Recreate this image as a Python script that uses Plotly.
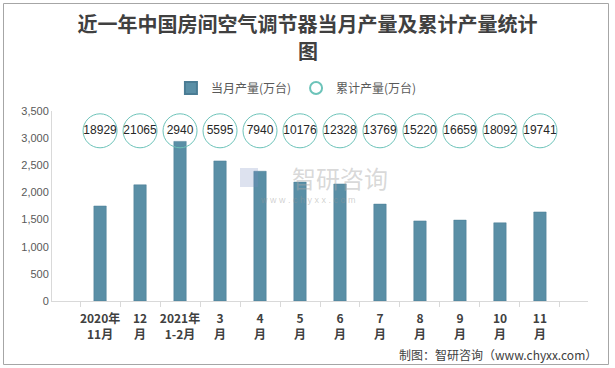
import plotly.graph_objects as go

categories = ["2020年<br>11月", "12<br>月", "2021年<br>1-2月", "3<br>月", "4<br>月", "5<br>月",
              "6<br>月", "7<br>月", "8<br>月", "9<br>月", "10<br>月", "11<br>月"]
monthly = [1750, 2140, 2940, 2580, 2390, 2190, 2155, 1785, 1475, 1490, 1440, 1640]
cumulative = [18929, 21065, 2940, 5595, 7940, 10176, 12328, 13769, 15220, 16659, 18092, 19741]
y_ticks = [0, 500, 1000, 1500, 2000, 2500, 3000, 3500]
title_line1 = "近一年中国房间空气调节器当月产量及累计产量统计"
title_line2 = "图"

W, H = 615, 368
L, R, T, B = 52, 27, 111, 67
circle_y = 3135

def px_x(px):
    return (px - L) / (W - L - R)

def px_y(py):
    return (H - B - py) / (H - T - B)

fig = go.Figure()
fig.add_trace(go.Bar(
    x=categories, y=monthly, name="当月产量(万台)",
    marker=dict(color="#5a8fa6", line=dict(color="#4a7c94", width=0.5)),
    width=0.31,
))
fig.add_trace(go.Scatter(
    x=categories, y=[circle_y] * len(categories), mode="markers",
    name="累计产量(万台)",
    marker=dict(symbol="circle", size=34, color="rgba(255,255,255,0)",
                line=dict(color="#6cc3b9", width=1)),
))
fig.add_trace(go.Scatter(
    x=categories, y=[circle_y] * len(categories), mode="text",
    text=[str(v) for v in cumulative], textposition="middle center",
    textfont=dict(size=12, color="#262626", family="Liberation Sans"),
    showlegend=False, hoverinfo="skip",
))

title_font = dict(size=20, color="#404040", family="Noto Sans CJK SC", weight="bold")

fig.update_layout(
    width=W, height=H,
    margin=dict(l=L, r=R, t=T, b=B, autoexpand=False),
    paper_bgcolor="white", plot_bgcolor="white",
    font=dict(family="Noto Sans CJK SC", color="#595959"),
    title=dict(
        text=title_line1,
        x=0.5, xref="container", xanchor="center",
        y=1 - 25 / H, yref="container", yanchor="middle",
        font=title_font,
    ),
    legend=dict(
        orientation="h", x=0.482, xref="container", xanchor="center",
        y=1 - 88 / H, yref="container", yanchor="middle",
        font=dict(size=12, color="#595959"),
        itemsizing="constant", itemwidth=30, traceorder="normal",
    ),
    xaxis=dict(
        type="category", showline=True, linecolor="#d9d9d9", linewidth=1,
        ticks="outside", tickson="boundaries", ticklen=5, tickcolor="#d9d9d9",
        tickangle=0, automargin=False, ticklabelstandoff=7,
        tickfont=dict(size=12, color="#404040", family="Noto Sans CJK SC", weight="bold"),
        showgrid=False,
    ),
    yaxis=dict(
        range=[0, 3500], tickvals=y_ticks, tickformat=",", showgrid=False,
        showline=True, linecolor="#d9d9d9", linewidth=1, zeroline=False,
        automargin=False,
        tickfont=dict(size=11, color="#595959", family="Liberation Sans"),
    ),
    bargap=0.69,
    showlegend=True,
)

# second title line
fig.add_annotation(text=title_line2, xref="paper", yref="paper",
                   x=px_x(307.5), y=px_y(51), showarrow=False, yanchor="middle",
                   font=title_font)

# watermark
fig.add_annotation(text="智研咨询", xref="paper", yref="paper",
                   x=px_x(340), y=px_y(177), showarrow=False, yanchor="middle",
                   font=dict(size=24, color="rgba(170,170,170,0.45)", family="Noto Sans CJK SC"))
fig.add_annotation(text="w w w . c h y x x . c o m", xref="paper", yref="paper",
                   x=px_x(308), y=px_y(200), showarrow=False, yanchor="middle",
                   font=dict(size=9, color="rgba(150,150,150,0.45)", family="Liberation Sans"))
fig.add_shape(type="rect", xref="paper", yref="paper",
              x0=px_x(240), x1=px_x(258), y0=px_y(187), y1=px_y(168),
              line=dict(width=0), fillcolor="rgba(120,140,190,0.25)")

# footer
fig.add_annotation(text="制图：智研咨询（www.chyxx.com）", xref="paper", yref="paper",
                   x=px_x(599), y=px_y(354), xanchor="right", yanchor="middle",
                   showarrow=False, font=dict(size=12, color="#404040", family="Noto Sans CJK SC"))

# frame
fig.add_shape(type="rect", xref="paper", yref="paper",
              x0=px_x(3.5), x1=px_x(608.5), y0=px_y(364.5), y1=px_y(3.5),
              line=dict(color="#a6a6a6", width=1), fillcolor="rgba(0,0,0,0)", layer="below")

fig.write_html("out.html", config={"displayModeBar": False},
               post_script="document.body.style.margin='0';document.body.style.overflow='hidden';")
